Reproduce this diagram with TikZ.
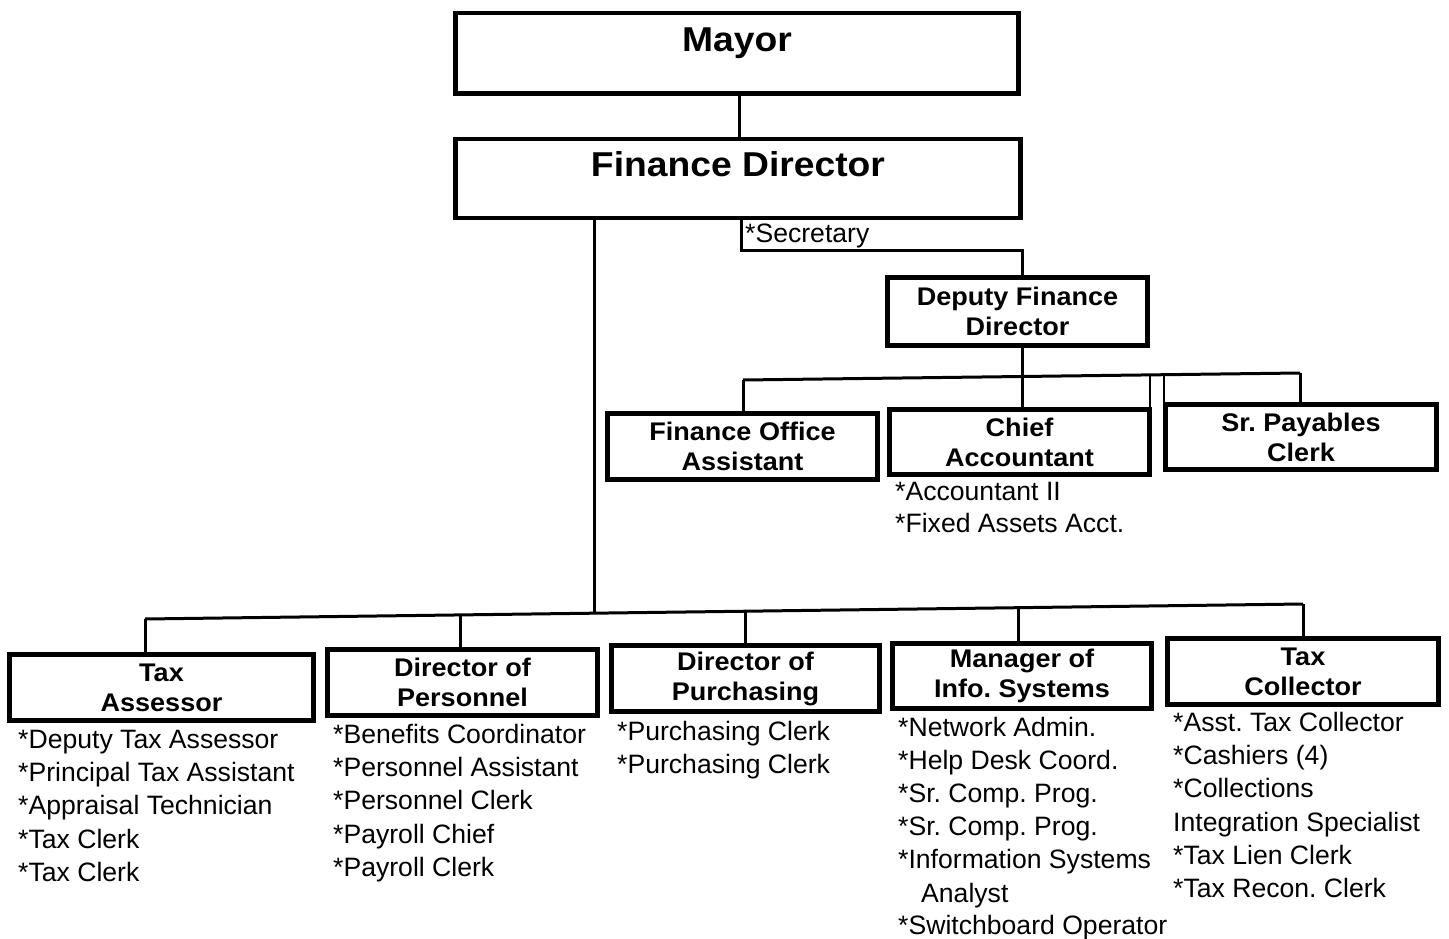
\documentclass[tikz,border=0pt]{standalone}
\usepackage{fontspec}
\setmainfont{Liberation Sans}
\newfontfamily\boxfont{Liberation Sans}[FakeStretch=1.06]
\newfontfamily\titlefont{Liberation Sans}[FakeStretch=1.08]
\usetikzlibrary{calc}
\frenchspacing
\tikzset{
  titlebox/.style={draw, line width=4.5pt, inner sep=0pt, font=\titlefont\bfseries\fontsize{34.5}{40}\selectfont},
  orgbox/.style={draw, line width=4.5pt, inner sep=0pt, align=center, font=\boxfont\bfseries\fontsize{25.5}{30}\selectfont},
  item/.style={anchor=base west, inner sep=0pt, font=\frenchspacing\fontsize{26.6}{32}\selectfont},
  link/.style={line width=3pt},
}
\begin{document}
\begin{tikzpicture}[x=1pt,y=-1pt]
\fill[white] (0,0) rectangle (1449,939);
\useasboundingbox (0,0) rectangle (1449,939);

% top boxes
\node[titlebox, minimum width=563pt, text height=38pt, text depth=42.5pt] (mayor) at (737,53.5) {Mayor};
\node[titlebox, minimum width=565pt, text height=37pt, text depth=41.5pt] (fd) at (738,178.5) {Finance Director};
\node[orgbox, minimum width=260pt, minimum height=68pt] (dep) at (1017.5,311.5) {Deputy Finance\\Director};

% middle row
\node[orgbox, minimum width=270pt, minimum height=66pt] (foa) at (742.5,446.5) {Finance Office\\Assistant};
\node[orgbox, minimum width=260pt, minimum height=65pt] (ca) at (1019.5,442) {Chief\\Accountant};
\node[orgbox, minimum width=271pt, minimum height=65pt] (spc) at (1301,437) {Sr. Payables\\Clerk};

% bottom row
\node[orgbox, minimum width=304pt, minimum height=66pt] (ta) at (161.5,687.5) {Tax\\Assessor};
\node[orgbox, minimum width=270pt, minimum height=66pt] (dp) at (462.5,682.5) {Director of\\Personnel};
\node[orgbox, minimum width=268pt, minimum height=66pt] (dpu) at (745.5,678.5) {Director of\\Purchasing};
\node[orgbox, minimum width=259pt, minimum height=65pt] (mis) at (1022,676) {Manager of\\Info. Systems};
\node[orgbox, minimum width=271pt, minimum height=66pt] (tc) at (1303,671.5) {Tax\\Collector};

% junction coordinates
\coordinate (fdj) at (594,613.2);
\coordinate (secj) at (741,250);
\coordinate (depx) at (1022,250);
\coordinate (ubL) at (743,380);
\coordinate (ubR) at (1300,373);
\coordinate (artA) at (1150,374.9);
\coordinate (artB) at (1164,374.7);
\coordinate (lbL) at (145,619);
\coordinate (lb2) at (460,614.9);
\coordinate (lb3) at (745,611.2);
\coordinate (lb4) at (1018,607.7);
\coordinate (lbR) at (1303,604);

% connectors
\draw[link] (mayor.south -| 739,0) -- (fd.north -| 739,0);
\draw[link] (fd.south -| fdj) -- (fdj);
\draw[link] (fd.south -| secj) -- (secj) -- (depx) -- (depx |- dep.north);
\draw[link] (dep.south -| depx) -- (ca.north -| depx);
\draw[link] (ubL) -- (ubR);
\draw[link] (ubL) -- (ubL |- foa.north);
\draw[link] (ubR) -- (ubR |- spc.north);
\draw[link, line width=2.5pt] (artA) -- (artA |- ca.north);
\draw[link, line width=2.5pt] (artB) -- (artB |- spc.north);
\draw[link] (lbL) -- (lbR);
\draw[link] (lbL) -- (lbL |- ta.north);
\draw[link] (lb2) -- (lb2 |- dp.north);
\draw[link] (lb3) -- (lb3 |- dpu.north);
\draw[link] (lb4) -- (lb4 |- mis.north);
\draw[link] (lbR) -- (lbR |- tc.north);

% texts
\node[item] (sec) at (745,242) {*Secretary};
\node[item] (ca1) at (895,500.5) {*Accountant II};
\node[item] (ca2) at (895,532.5) {*Fixed Assets Acct.};

\foreach \t [count=\i from 0] in {*Deputy Tax Assessor, *Principal Tax Assistant, *Appraisal Technician, *Tax Clerk, *Tax Clerk}
  \node[item] (ta\i) at (18,{748.5+33.2*\i}) {\t};
\foreach \t [count=\i from 0] in {*Benefits Coordinator, *Personnel Assistant, *Personnel Clerk, *Payroll Chief, *Payroll Clerk}
  \node[item] (dp\i) at (333,{743.5+33.2*\i}) {\t};
\foreach \t [count=\i from 0] in {*Purchasing Clerk, *Purchasing Clerk}
  \node[item] (dpu\i) at (617,{740.5+33.2*\i}) {\t};
\foreach \t [count=\i from 0] in {*Network Admin., *Help Desk Coord., *Sr. Comp. Prog., *Sr. Comp. Prog., *Information Systems}
  \node[item] (mis\i) at (898,{736.5+33*\i}) {\t};
\node[item] (mis5) at (921,902) {Analyst};
\node[item] (mis6) at (898,934) {*Switchboard Operator};
\foreach \t [count=\i from 0] in {*Asst. Tax Collector, *Cashiers (4), *Collections, Integration Specialist, *Tax Lien Clerk, *Tax Recon. Clerk}
  \node[item] (tc\i) at (1173,{731.5+33.2*\i}) {\t};
\end{tikzpicture}
\end{document}
